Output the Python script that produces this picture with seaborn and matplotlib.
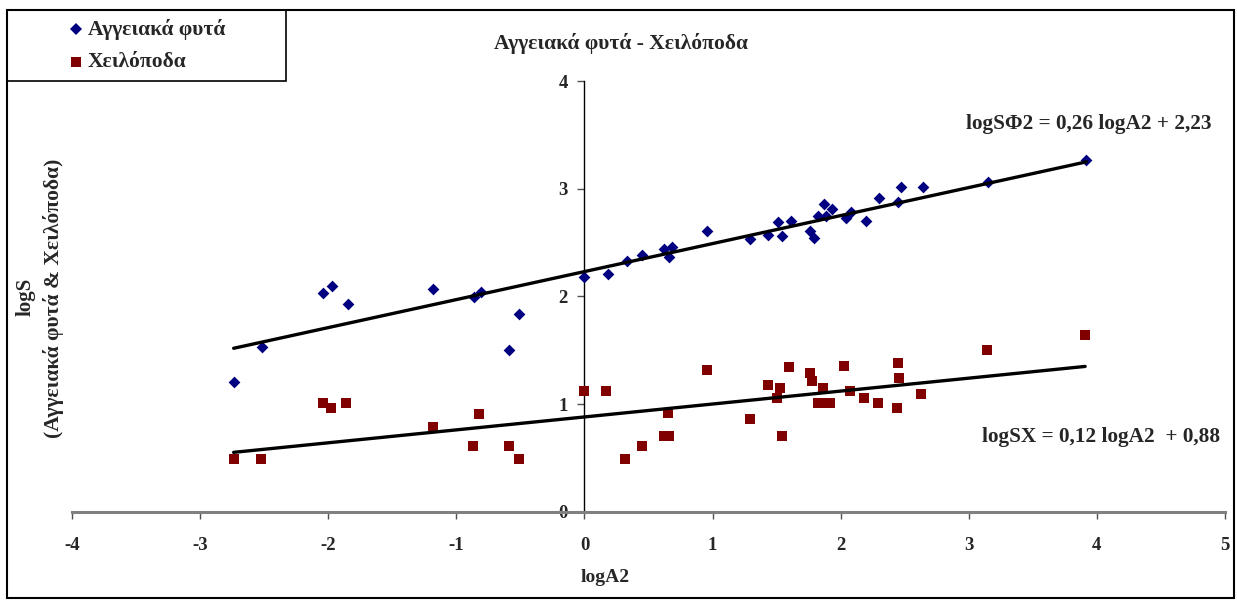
import matplotlib
matplotlib.use("Agg")
import matplotlib.pyplot as plt
from matplotlib.patches import Rectangle
from matplotlib.lines import Line2D
import numpy as np
import pandas as pd
import seaborn as sns

# ---------------- data ----------------
plants_x = [-2.74, -2.52, -2.04, -1.97, -1.85, -1.18, -0.86, -0.81, -0.59, -0.51,
            0.00, 0.18, 0.33, 0.45, 0.62, 0.66, 0.68, 0.96, 1.29, 1.43,
            1.51, 1.54, 1.61, 1.76, 1.79, 1.82, 1.87, 1.89, 1.93, 2.04,
            2.08, 2.20, 2.30, 2.45, 2.47, 2.64, 3.15, 3.92]
plants_y = [1.20, 1.53, 2.03, 2.10, 1.93, 2.07, 1.99, 2.04, 1.50, 1.84,
            2.18, 2.21, 2.33, 2.38, 2.44, 2.37, 2.46, 2.61, 2.53, 2.57,
            2.69, 2.56, 2.70, 2.61, 2.54, 2.75, 2.86, 2.75, 2.81, 2.73,
            2.78, 2.70, 2.91, 2.88, 3.02, 3.02, 3.06, 3.27]

chilo_x = [-2.74, -2.53, -2.04, -1.98, -1.86, -1.18, -0.87, -0.82, -0.59, -0.51,
           0.00, 0.17, 0.32, 0.45, 0.62, 0.65, 0.66, 0.96, 1.29, 1.43,
           1.50, 1.53, 1.54, 1.60, 1.76, 1.78, 1.82, 1.86, 1.88, 1.92,
           2.03, 2.07, 2.18, 2.29, 2.44, 2.45, 2.46, 2.63, 3.14, 3.91]
chilo_y = [0.49, 0.49, 1.01, 0.96, 1.01, 0.79, 0.61, 0.91, 0.61, 0.49,
           1.12, 1.12, 0.49, 0.61, 0.70, 0.92, 0.70, 1.32, 0.86, 1.18,
           1.06, 1.15, 0.70, 1.34, 1.29, 1.21, 1.01, 1.15, 1.01, 1.01,
           1.35, 1.12, 1.06, 1.01, 0.96, 1.38, 1.24, 1.09, 1.50, 1.64]

series_names = ["Αγγειακά φυτά", "Χειλόποδα"]
fit_slopes = [0.26, 0.12]
fit_intercepts = [2.23, 0.88]
equations = ["logSΦ2 = 0,26 logA2 + 2,23", "logSX = 0,12 logA2  + 0,88"]
x_ticks = [-4, -3, -2, -1, 0, 1, 2, 3, 4, 5]
y_ticks = [0, 1, 2, 3, 4]
title = "Αγγειακά φυτά - Χειλόποδα"
x_label = "logA2"
y_label_1 = "logS"
y_label_2 = "(Αγγειακά φυτά & Χειλόποδα)"

# ---------------- style ----------------
sns.set_style("white")
plt.rcParams["font.family"] = ["Liberation Serif", "DejaVu Serif"]
plt.rcParams["font.weight"] = "bold"

W, H = 1237, 601
def fx(px):
    return px / W
def fy(py):
    return 1 - py / H

blue = "#000080"
red = "#800000"

fig = plt.figure(figsize=(W / 100, H / 100), dpi=100)
fig.patch.set_facecolor("white")
ax = fig.add_axes([fx(72.3), fy(511.7), fx(1224.7) - fx(72.3), fy(81) - fy(511.7)])
ax.set_facecolor("white")

df_p = pd.DataFrame({"x": plants_x, "y": plants_y})
df_c = pd.DataFrame({"x": chilo_x, "y": chilo_y})

sns.scatterplot(data=df_p, x="x", y="y", marker="D", s=36, color=blue,
                linewidth=0, ax=ax, legend=False, zorder=3)
sns.scatterplot(data=df_c, x="x", y="y", marker="s", s=52, color=red,
                linewidth=0, ax=ax, legend=False, zorder=3)

# trend lines from the stated regression coefficients
for xs, a, b in [(plants_x, fit_slopes[0], fit_intercepts[0]),
                 (chilo_x, fit_slopes[1], fit_intercepts[1])]:
    lx = np.array([min(xs), max(xs)])
    sns.lineplot(x=lx, y=a * lx + b, color="black", linewidth=2.4, ax=ax,
                 legend=False, zorder=4)

ax.set_xlim(-4, 5)
ax.set_ylim(0, 4)
ax.set_xticks(x_ticks)
ax.set_yticks(y_ticks)
ax.set_xticklabels([str(t) for t in x_ticks])
ax.set_yticklabels([str(t) for t in y_ticks])
ax.set_xlabel("")
ax.set_ylabel("")
ax.grid(False)

for s in ["top", "right"]:
    ax.spines[s].set_visible(False)
ax.spines["left"].set_position(("data", 0))
ax.spines["left"].set_color("black")
ax.spines["left"].set_linewidth(1.0)
ax.spines["bottom"].set_position(("data", 0))
ax.spines["bottom"].set_color("#808080")
ax.spines["bottom"].set_linewidth(2.2)

ax.tick_params(axis="x", bottom=True, direction="out", length=5, width=1,
               color="#505050", pad=13, labelsize=13.5)
ax.tick_params(axis="y", left=True, direction="out", length=5, width=1,
               color="#505050", pad=7, labelsize=13.5)
for lab in ax.get_xticklabels() + ax.get_yticklabels():
    lab.set_fontweight("bold")

# texts
fig.text(fx(621), fy(44), title, ha="center", va="center", fontsize=15.5,
         fontweight="bold")
fig.text(fx(1212), fy(124), equations[0], ha="right", va="center", fontsize=15.3,
         fontweight="bold")
fig.text(fx(1220), fy(437), equations[1], ha="right", va="center", fontsize=15.3,
         fontweight="bold")
fig.text(fx(605), fy(578), x_label, ha="center", va="center", fontsize=14,
         fontweight="bold")
fig.text(fx(26), fy(297), y_label_1, ha="center", va="center", rotation=90,
         fontsize=15, fontweight="bold")
fig.text(fx(54), fy(298), y_label_2, ha="center", va="center", rotation=90,
         fontsize=15.5, fontweight="bold")

# legend (manual, box in figure top-left)
fig.add_artist(Rectangle((fx(7), fy(81)), fx(286) - fx(7), fy(10) - fy(81),
                         transform=fig.transFigure, fill=False,
                         edgecolor="black", linewidth=1.2, zorder=5))
leg_rows = [29, 62]
leg_markers = ["D", "s"]
leg_sizes = [6.0, 7.2]
leg_colors = [blue, red]
for name, row, mk, ms, col in zip(series_names, leg_rows, leg_markers, leg_sizes, leg_colors):
    fig.add_artist(Line2D([fx(76)], [fy(row)], marker=mk, markersize=ms,
                          color=col, markeredgewidth=0, linestyle="none",
                          transform=fig.transFigure))
    fig.text(fx(88), fy(row), name, ha="left", va="center", fontsize=15.5,
             fontweight="bold")

# figure border
fig.add_artist(Rectangle((fx(7), fy(598)), fx(1234) - fx(7), fy(10) - fy(598),
                         transform=fig.transFigure, fill=False,
                         edgecolor="black", linewidth=1.5, zorder=5))

fig.savefig("out.png", dpi=100, facecolor="white")
